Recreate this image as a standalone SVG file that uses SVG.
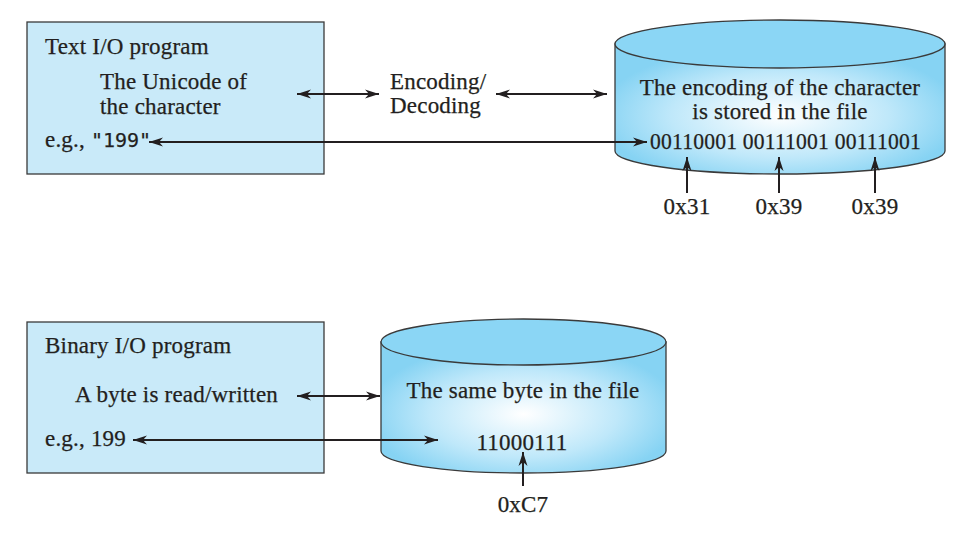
<svg xmlns="http://www.w3.org/2000/svg" width="978" height="540" viewBox="0 0 978 540">
<style>
.box{fill:#c9eaf9;stroke:#3a3a3a;stroke-width:1.3}
.cyl{stroke:#3a3a3a;stroke-width:1.3}
.top{fill:#8bd6f5;stroke:#3a3a3a;stroke-width:1.3}
.t{font-family:"Liberation Serif","Times New Roman",serif;font-size:23px;fill:#231f20;stroke:#231f20;stroke-width:0.25;letter-spacing:0.2px}
.m{font-family:"DejaVu Sans Mono","Liberation Mono",monospace;font-size:20px;letter-spacing:0}
.c{text-anchor:middle}
.ln{stroke:#231f20;stroke-width:2;fill:none}
</style>
<defs>
<marker id="ah" markerWidth="14" markerHeight="10" refX="14" refY="5" orient="auto-start-reverse" markerUnits="userSpaceOnUse">
<path d="M0,0.5 L14,5 L0,9.5 L4,5 z" fill="#231f20"/>
</marker>
<radialGradient id="g1" cx="0.5" cy="0.55" r="0.55">
<stop offset="0" stop-color="#ffffff"/>
<stop offset="0.6" stop-color="#bfe8fa"/>
<stop offset="1" stop-color="#86d3f3"/>
</radialGradient>
</defs>

<g id="text-program">
<rect class="box" x="27" y="22" width="297" height="152"/>
<text class="t" x="45" y="54">Text I/O program</text>
<text class="t" x="100" y="89">The Unicode of</text>
<text class="t" x="100" y="114">the character</text>
<text class="t" x="45" y="147">e.g., <tspan class="m">"199"</tspan></text>
</g>

<g id="text-file">
<path class="cyl" fill="url(#g1)" d="M615,44 L615,151 A165,23 0 0 0 945,151 L945,44 Z"/>
<ellipse class="top" cx="780" cy="44" rx="165" ry="24"/>
<text class="t c" x="780" y="95">The encoding of the character</text>
<text class="t c" x="780" y="119">is stored in the file</text>
<text class="t" x="650" y="149" textLength="271" lengthAdjust="spacingAndGlyphs">00110001 00111001 00111001</text>
</g>

<g id="encoding-label">
<text class="t" x="390" y="89">Encoding/</text>
<text class="t" x="390" y="113">Decoding</text>
</g>

<g id="hex-labels">
<text class="t c" x="687" y="214">0x31</text>
<text class="t c" x="779" y="214">0x39</text>
<text class="t c" x="875" y="214">0x39</text>
</g>

<g id="binary-program">
<rect class="box" x="27" y="322" width="297" height="151"/>
<text class="t" x="45" y="353">Binary I/O program</text>
<text class="t" x="75" y="402">A byte is read/written</text>
<text class="t" x="45" y="446">e.g., 199</text>
</g>

<g id="binary-file">
<path class="cyl" fill="url(#g1)" d="M381,342 L381,451 A142.5,22 0 0 0 666,451 L666,342 Z"/>
<ellipse class="top" cx="523.5" cy="342" rx="142.5" ry="23"/>
<text class="t c" x="523" y="398">The same byte in the file</text>
<text class="t c" x="522" y="450">11000111</text>
<text class="t c" x="523" y="512">0xC7</text>
</g>

<g id="connectors">
<line class="ln" x1="297" y1="94" x2="379" y2="94" marker-start="url(#ah)" marker-end="url(#ah)"/>
<line class="ln" x1="496" y1="94" x2="607" y2="94" marker-start="url(#ah)" marker-end="url(#ah)"/>
<line class="ln" x1="149" y1="142" x2="647" y2="142" marker-start="url(#ah)" marker-end="url(#ah)"/>
<line class="ln" x1="687" y1="193" x2="687" y2="157" marker-end="url(#ah)"/>
<line class="ln" x1="779" y1="193" x2="779" y2="157" marker-end="url(#ah)"/>
<line class="ln" x1="875" y1="193" x2="875" y2="157" marker-end="url(#ah)"/>
<line class="ln" x1="297" y1="396" x2="380" y2="396" marker-start="url(#ah)" marker-end="url(#ah)"/>
<line class="ln" x1="133" y1="440" x2="438" y2="440" marker-start="url(#ah)" marker-end="url(#ah)"/>
<line class="ln" x1="523" y1="486" x2="523" y2="452" marker-end="url(#ah)"/>
</g>
</svg>
